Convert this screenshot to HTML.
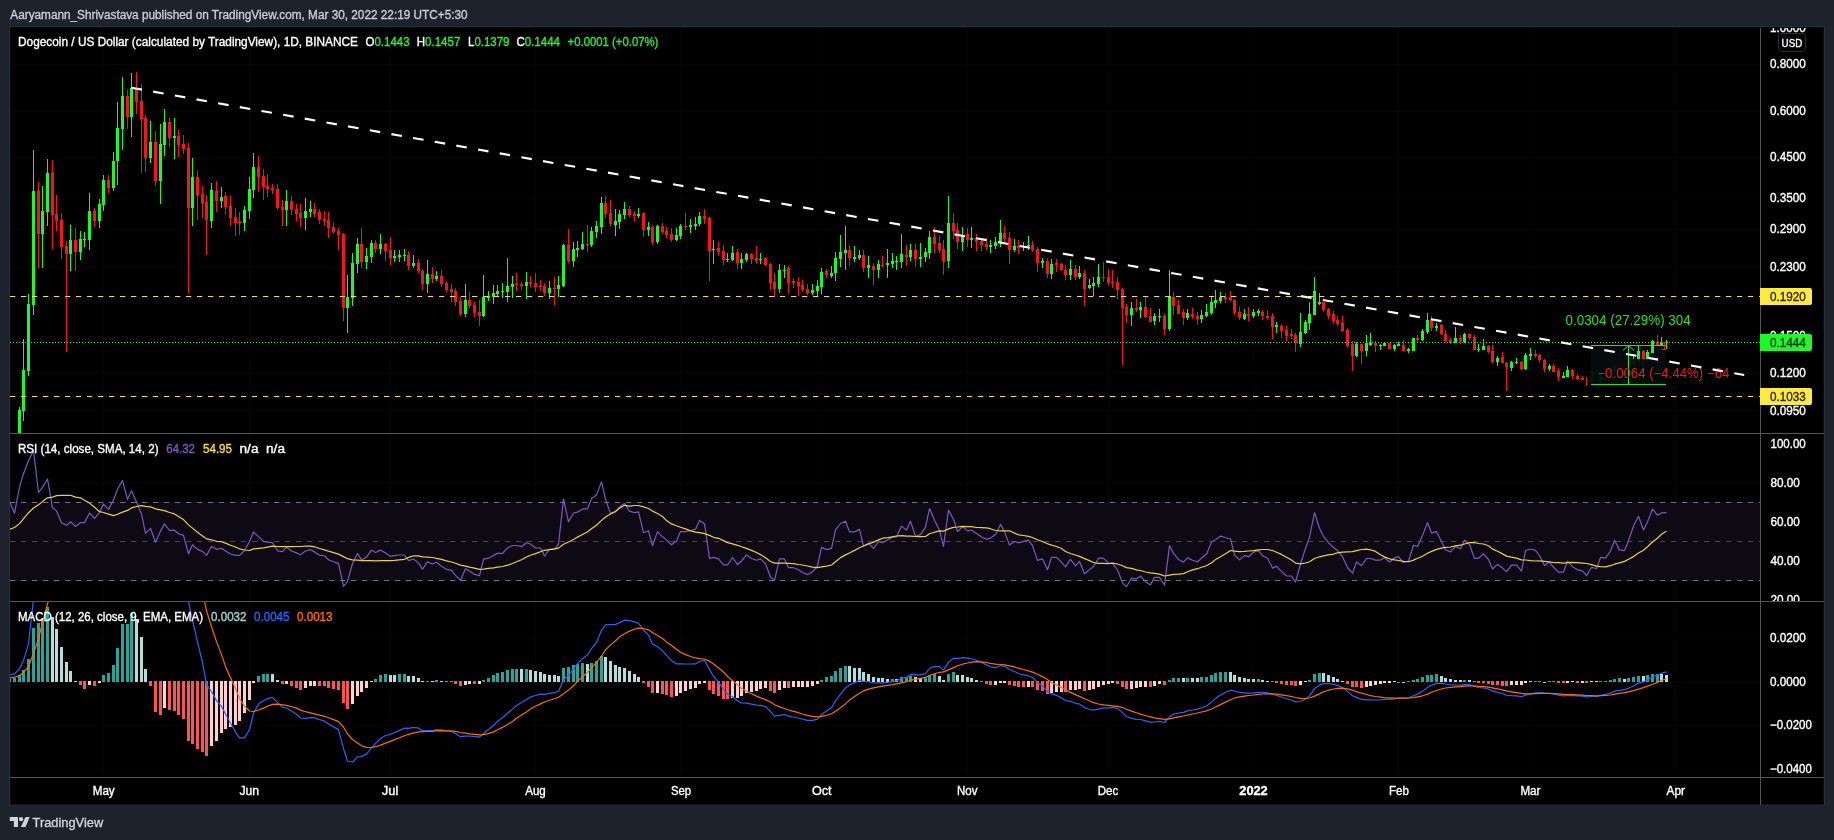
<!DOCTYPE html>
<html lang="en"><head><meta charset="utf-8"><title>DOGEUSD chart</title>
<style>html,body{margin:0;padding:0;background:#1e222d;overflow:hidden}svg text{white-space:pre}</style>
</head><body>
<svg width="1834" height="840" viewBox="0 0 1834 840" font-family="'Liberation Sans', sans-serif" style="display:block;will-change:transform">
<rect width="1834" height="840" fill="#1e222d"/>
<rect x="9" y="26" width="1816" height="779.7" fill="#2a2e39"/>
<rect x="10" y="27" width="1813.7" height="777.6" fill="#0e1014"/>
<rect x="10.6" y="27.7" width="1812.9" height="776.7" fill="#000"/>
<defs>
<clipPath id="cMain"><rect x="10" y="28" width="1750" height="405"/></clipPath>
<clipPath id="cRsi"><rect x="10" y="434" width="1750" height="167"/></clipPath>
<clipPath id="cMacd"><rect x="10" y="602" width="1750" height="175"/></clipPath>
<clipPath id="cAx1"><rect x="1760" y="28" width="64" height="405"/></clipPath>
<clipPath id="cAx2"><rect x="1761" y="434" width="63" height="167"/></clipPath>
</defs>
<path d="M103.5 28V777 M249.5 28V777 M390.5 28V777 M535.5 28V777 M680.5 28V777 M821.5 28V777 M967.5 28V777 M1108.5 28V777 M1253.5 28V777 M1398.5 28V777 M1530.5 28V777 M1675.5 28V777 M10 64.5H1760 M10 111.5H1760 M10 157.5H1760 M10 198.5H1760 M10 229.5H1760 M10 267.5H1760 M10 298.5H1760 M10 336.5H1760 M10 372.5H1760 M10 410.5H1760 M10 483.5H1760 M10 522.5H1760 M10 561.5H1760 M10 638.5H1760 M10 682.5H1760 M10 725.5H1760 M10 769.5H1760" stroke="#050608" stroke-width="1" fill="none" shape-rendering="crispEdges"/>
<g clip-path="url(#cMain)">
<path d="M19 407h1v33h-1zM23 339h1v82h-1zM28 294h1v82h-1zM33 150h1v165h-1zM42 186h1v82h-1zM47 159h1v67h-1zM70 225h1v46h-1zM80 231h1v29h-1zM84 232h1v15h-1zM89 193h1v57h-1zM99 199h1v29h-1zM103 175h1v36h-1zM113 152h1v39h-1zM117 102h1v83h-1zM122 77h1v73h-1zM131 73h1v64h-1zM150 121h1v42h-1zM160 124h1v80h-1zM164 109h1v47h-1zM174 118h1v41h-1zM192 158h1v68h-1zM211 183h1v45h-1zM221 187h1v21h-1zM244 206h1v25h-1zM249 177h1v42h-1zM253 153h1v45h-1zM286 190h1v36h-1zM305 198h1v32h-1zM310 201h1v16h-1zM347 275h1v58h-1zM352 253h1v53h-1zM357 238h1v35h-1zM366 248h1v21h-1zM371 240h1v23h-1zM380 234h1v20h-1zM394 250h1v12h-1zM399 250h1v12h-1zM404 249h1v12h-1zM413 255h1v13h-1zM427 260h1v33h-1zM436 271h1v10h-1zM465 284h1v33h-1zM483 275h1v42h-1zM488 291h1v10h-1zM493 285h1v19h-1zM497 285h1v11h-1zM502 283h1v15h-1zM507 258h1v44h-1zM512 276h1v22h-1zM526 272h1v27h-1zM549 281h1v18h-1zM558 276h1v21h-1zM563 244h1v43h-1zM573 242h1v25h-1zM577 241h1v16h-1zM582 232h1v18h-1zM591 227h1v20h-1zM596 221h1v17h-1zM601 197h1v37h-1zM615 209h1v27h-1zM619 210h1v19h-1zM624 202h1v17h-1zM638 208h1v10h-1zM648 222h1v14h-1zM657 225h1v19h-1zM676 228h1v13h-1zM680 224h1v15h-1zM690 219h1v14h-1zM695 217h1v13h-1zM699 212h1v14h-1zM713 240h1v24h-1zM727 253h1v9h-1zM732 246h1v15h-1zM741 253h1v16h-1zM746 253h1v9h-1zM760 253h1v11h-1zM779 264h1v29h-1zM784 265h1v13h-1zM812 284h1v11h-1zM817 280h1v16h-1zM821 268h1v26h-1zM831 266h1v12h-1zM835 252h1v29h-1zM840 235h1v32h-1zM845 226h1v44h-1zM854 246h1v16h-1zM859 250h1v10h-1zM868 256h1v22h-1zM878 260h1v18h-1zM887 249h1v29h-1zM892 253h1v15h-1zM896 256h1v14h-1zM901 234h1v34h-1zM910 244h1v17h-1zM920 243h1v24h-1zM925 248h1v14h-1zM929 231h1v28h-1zM948 196h1v72h-1zM962 227h1v24h-1zM971 227h1v21h-1zM990 240h1v13h-1zM995 237h1v12h-1zM1000 220h1v27h-1zM1014 239h1v13h-1zM1023 242h1v9h-1zM1028 236h1v14h-1zM1042 258h1v10h-1zM1051 259h1v20h-1zM1070 260h1v20h-1zM1079 266h1v13h-1zM1089 279h1v10h-1zM1093 277h1v19h-1zM1098 264h1v23h-1zM1131 302h1v24h-1zM1140 302h1v16h-1zM1154 313h1v12h-1zM1159 309h1v13h-1zM1169 270h1v61h-1zM1187 309h1v11h-1zM1201 310h1v13h-1zM1206 304h1v13h-1zM1211 297h1v18h-1zM1215 290h1v18h-1zM1220 292h1v11h-1zM1244 309h1v11h-1zM1253 309h1v9h-1zM1258 309h1v7h-1zM1276 322h1v11h-1zM1300 313h1v34h-1zM1305 320h1v14h-1zM1309 302h1v28h-1zM1314 277h1v38h-1zM1319 293h1v12h-1zM1356 342h1v15h-1zM1366 335h1v21h-1zM1370 333h1v13h-1zM1380 344h1v6h-1zM1384 342h1v4h-1zM1394 344h1v7h-1zM1398 342h1v4h-1zM1408 348h1v5h-1zM1413 338h1v13h-1zM1422 329h1v12h-1zM1427 313h1v21h-1zM1436 323h1v8h-1zM1455 327h1v16h-1zM1464 333h1v10h-1zM1478 344h1v8h-1zM1483 339h1v11h-1zM1497 356h1v10h-1zM1511 361h1v10h-1zM1516 358h1v6h-1zM1525 353h1v17h-1zM1530 348h1v12h-1zM1549 364h1v7h-1zM1563 372h1v6h-1zM1567 366h1v11h-1zM18 410h3v30h-3zM22 370h3v41h-3zM27 304h3v67h-3zM32 191h3v114h-3zM41 211h3v23h-3zM46 173h3v39h-3zM69 240h3v14h-3zM79 239h3v13h-3zM83 239h3v1h-3zM88 211h3v29h-3zM98 204h3v17h-3zM102 180h3v25h-3zM112 161h3v27h-3zM116 128h3v33h-3zM121 96h3v33h-3zM130 88h3v29h-3zM149 142h3v16h-3zM159 144h3v37h-3zM163 122h3v23h-3zM173 136h3v2h-3zM191 177h3v31h-3zM210 190h3v31h-3zM220 197h3v4h-3zM243 210h3v13h-3zM248 189h3v22h-3zM252 167h3v23h-3zM285 201h3v9h-3zM304 211h3v7h-3zM309 209h3v3h-3zM346 297h3v11h-3zM351 263h3v35h-3zM356 244h3v20h-3zM365 256h3v6h-3zM370 243h3v14h-3zM379 244h3v5h-3zM393 256h3v2h-3zM398 255h3v2h-3zM403 255h3v1h-3zM412 263h3v3h-3zM426 274h3v10h-3zM435 276h3v3h-3zM464 300h3v14h-3zM482 297h3v19h-3zM487 296h3v2h-3zM492 293h3v4h-3zM496 291h3v3h-3zM501 291h3v1h-3zM506 286h3v6h-3zM511 284h3v3h-3zM525 282h3v4h-3zM548 288h3v5h-3zM557 285h3v4h-3zM562 245h3v41h-3zM572 249h3v12h-3zM576 248h3v2h-3zM581 244h3v5h-3zM590 231h3v14h-3zM595 226h3v6h-3zM600 203h3v24h-3zM614 221h3v4h-3zM618 214h3v8h-3zM623 209h3v6h-3zM637 214h3v2h-3zM647 227h3v3h-3zM656 226h3v16h-3zM675 235h3v5h-3zM679 226h3v10h-3zM689 225h3v2h-3zM694 224h3v2h-3zM698 216h3v8h-3zM712 249h3v1h-3zM726 259h3v1h-3zM731 253h3v7h-3zM740 259h3v4h-3zM745 254h3v6h-3zM759 259h3v1h-3zM778 270h3v19h-3zM783 270h3v1h-3zM811 290h3v3h-3zM816 286h3v5h-3zM820 272h3v15h-3zM830 273h3v3h-3zM834 258h3v15h-3zM839 252h3v7h-3zM844 250h3v3h-3zM853 257h3v2h-3zM858 255h3v3h-3zM867 265h3v3h-3zM877 264h3v6h-3zM886 263h3v2h-3zM891 261h3v3h-3zM895 261h3v1h-3zM900 254h3v8h-3zM909 250h3v7h-3zM919 257h3v2h-3zM924 252h3v5h-3zM928 237h3v16h-3zM947 223h3v38h-3zM961 235h3v7h-3zM970 238h3v2h-3zM989 245h3v2h-3zM994 242h3v4h-3zM999 233h3v9h-3zM1013 246h3v4h-3zM1022 246h3v1h-3zM1027 245h3v1h-3zM1041 261h3v2h-3zM1050 264h3v10h-3zM1069 269h3v6h-3zM1078 273h3v4h-3zM1088 285h3v3h-3zM1092 283h3v3h-3zM1097 277h3v7h-3zM1130 308h3v7h-3zM1139 307h3v3h-3zM1153 316h3v5h-3zM1158 316h3v1h-3zM1168 296h3v33h-3zM1186 313h3v5h-3zM1200 315h3v4h-3zM1205 312h3v4h-3zM1210 302h3v11h-3zM1214 300h3v3h-3zM1219 297h3v4h-3zM1243 314h3v5h-3zM1252 312h3v4h-3zM1257 311h3v2h-3zM1275 325h3v2h-3zM1299 332h3v12h-3zM1304 322h3v11h-3zM1308 314h3v9h-3zM1313 291h3v24h-3zM1318 302h3v2h-3zM1355 344h3v12h-3zM1365 343h3v8h-3zM1369 343h3v2h-3zM1379 345h3v1h-3zM1383 343h3v3h-3zM1393 345h3v4h-3zM1397 344h3v2h-3zM1407 349h3v2h-3zM1412 338h3v13h-3zM1421 331h3v9h-3zM1426 320h3v12h-3zM1435 326h3v2h-3zM1454 338h3v5h-3zM1463 334h3v8h-3zM1477 349h3v1h-3zM1482 346h3v4h-3zM1496 358h3v4h-3zM1510 362h3v6h-3zM1515 362h3v1h-3zM1524 355h3v14h-3zM1529 354h3v2h-3zM1548 366h3v3h-3zM1562 376h3v2h-3zM1566 370h3v7h-3z" fill="#1df927" shape-rendering="crispEdges"/>
<path d="M38 182h1v86h-1zM52 160h1v89h-1zM56 195h1v36h-1zM61 213h1v46h-1zM66 241h1v111h-1zM75 228h1v43h-1zM94 208h1v19h-1zM108 175h1v18h-1zM127 90h1v39h-1zM136 72h1v42h-1zM141 84h1v89h-1zM145 115h1v57h-1zM155 131h1v55h-1zM169 118h1v29h-1zM178 130h1v27h-1zM183 135h1v19h-1zM188 143h1v150h-1zM197 170h1v50h-1zM202 186h1v32h-1zM206 195h1v60h-1zM216 181h1v31h-1zM225 192h1v23h-1zM230 196h1v30h-1zM235 208h1v28h-1zM239 212h1v23h-1zM258 156h1v36h-1zM263 169h1v31h-1zM267 174h1v23h-1zM272 184h1v10h-1zM277 184h1v26h-1zM282 200h1v26h-1zM291 196h1v19h-1zM296 204h1v17h-1zM300 204h1v23h-1zM314 203h1v14h-1zM319 209h1v15h-1zM324 211h1v15h-1zM328 212h1v26h-1zM333 222h1v12h-1zM338 228h1v22h-1zM343 233h1v88h-1zM361 228h1v40h-1zM375 240h1v13h-1zM385 243h1v18h-1zM390 237h1v28h-1zM408 251h1v19h-1zM418 259h1v14h-1zM422 269h1v21h-1zM432 267h1v16h-1zM441 270h1v17h-1zM446 281h1v11h-1zM451 284h1v18h-1zM455 288h1v18h-1zM460 297h1v19h-1zM469 292h1v16h-1zM474 302h1v15h-1zM479 300h1v26h-1zM516 273h1v18h-1zM521 282h1v8h-1zM530 276h1v11h-1zM535 273h1v19h-1zM540 280h1v11h-1zM544 283h1v13h-1zM554 277h1v28h-1zM568 229h1v34h-1zM587 225h1v27h-1zM605 196h1v22h-1zM610 200h1v26h-1zM629 206h1v11h-1zM634 211h1v10h-1zM643 212h1v25h-1zM652 225h1v20h-1zM662 223h1v11h-1zM666 227h1v11h-1zM671 228h1v14h-1zM685 213h1v17h-1zM704 209h1v15h-1zM709 217h1v64h-1zM718 242h1v14h-1zM723 245h1v20h-1zM737 249h1v20h-1zM751 253h1v11h-1zM756 246h1v18h-1zM765 257h1v9h-1zM770 263h1v27h-1zM774 273h1v24h-1zM788 266h1v28h-1zM793 278h1v10h-1zM798 277h1v19h-1zM802 280h1v12h-1zM807 284h1v11h-1zM826 269h1v9h-1zM849 245h1v21h-1zM863 250h1v22h-1zM873 263h1v22h-1zM882 256h1v11h-1zM906 245h1v21h-1zM915 244h1v23h-1zM934 227h1v26h-1zM939 236h1v17h-1zM943 240h1v35h-1zM953 213h1v26h-1zM957 223h1v26h-1zM967 228h1v19h-1zM976 234h1v17h-1zM981 240h1v11h-1zM986 238h1v12h-1zM1004 226h1v16h-1zM1009 232h1v32h-1zM1018 240h1v14h-1zM1032 241h1v11h-1zM1037 247h1v25h-1zM1047 258h1v20h-1zM1056 259h1v13h-1zM1061 263h1v8h-1zM1065 265h1v15h-1zM1075 265h1v15h-1zM1084 270h1v36h-1zM1103 262h1v20h-1zM1108 269h1v16h-1zM1112 270h1v18h-1zM1117 277h1v22h-1zM1122 288h1v77h-1zM1126 304h1v19h-1zM1136 299h1v13h-1zM1145 297h1v21h-1zM1150 308h1v14h-1zM1164 314h1v21h-1zM1173 292h1v23h-1zM1178 300h1v14h-1zM1183 309h1v16h-1zM1192 308h1v11h-1zM1197 312h1v13h-1zM1225 293h1v10h-1zM1230 291h1v10h-1zM1234 299h1v16h-1zM1239 307h1v13h-1zM1248 307h1v14h-1zM1262 310h1v10h-1zM1267 310h1v10h-1zM1272 313h1v26h-1zM1281 324h1v14h-1zM1286 326h1v15h-1zM1291 329h1v10h-1zM1295 333h1v19h-1zM1323 302h1v10h-1zM1328 308h1v11h-1zM1333 311h1v13h-1zM1337 316h1v10h-1zM1342 316h1v16h-1zM1347 328h1v20h-1zM1352 341h1v30h-1zM1361 344h1v20h-1zM1375 341h1v11h-1zM1389 343h1v6h-1zM1403 340h1v11h-1zM1417 335h1v7h-1zM1431 316h1v15h-1zM1441 324h1v11h-1zM1445 330h1v12h-1zM1450 337h1v7h-1zM1460 335h1v9h-1zM1469 334h1v6h-1zM1474 335h1v15h-1zM1488 345h1v8h-1zM1492 345h1v18h-1zM1502 352h1v11h-1zM1506 362h1v29h-1zM1521 361h1v9h-1zM1535 350h1v8h-1zM1539 354h1v9h-1zM1544 359h1v13h-1zM1553 364h1v8h-1zM1558 368h1v13h-1zM1572 369h1v10h-1zM1577 374h1v6h-1zM1582 376h1v4h-1zM1586 377h1v9h-1zM37 191h3v43h-3zM51 173h3v42h-3zM55 214h3v7h-3zM60 220h3v27h-3zM65 246h3v8h-3zM74 240h3v12h-3zM93 211h3v10h-3zM107 180h3v8h-3zM126 96h3v21h-3zM135 88h3v14h-3zM140 101h3v18h-3zM144 118h3v40h-3zM154 142h3v39h-3zM168 122h3v16h-3zM177 136h3v9h-3zM182 144h3v5h-3zM187 148h3v60h-3zM196 177h3v18h-3zM201 194h3v9h-3zM205 202h3v18h-3zM215 191h3v10h-3zM224 196h3v11h-3zM229 206h3v12h-3zM234 217h3v6h-3zM238 221h3v2h-3zM257 167h3v10h-3zM262 176h3v11h-3zM266 186h3v3h-3zM271 188h3v2h-3zM276 189h3v19h-3zM281 207h3v3h-3zM290 201h3v9h-3zM295 209h3v5h-3zM299 213h3v5h-3zM313 209h3v5h-3zM318 212h3v8h-3zM323 219h3v2h-3zM327 220h3v8h-3zM332 227h3v5h-3zM337 231h3v4h-3zM342 234h3v74h-3zM360 244h3v18h-3zM374 243h3v6h-3zM384 244h3v7h-3zM389 250h3v8h-3zM407 255h3v11h-3zM417 263h3v8h-3zM421 271h3v13h-3zM431 274h3v5h-3zM440 276h3v8h-3zM445 283h3v7h-3zM450 289h3v3h-3zM454 291h3v11h-3zM459 301h3v13h-3zM468 300h3v6h-3zM473 305h3v8h-3zM478 312h3v4h-3zM515 284h3v1h-3zM520 284h3v2h-3zM529 282h3v2h-3zM534 283h3v4h-3zM539 286h3v1h-3zM543 286h3v7h-3zM553 288h3v1h-3zM567 245h3v16h-3zM586 244h3v1h-3zM604 203h3v11h-3zM609 213h3v11h-3zM628 209h3v6h-3zM633 214h3v2h-3zM642 213h3v17h-3zM651 227h3v15h-3zM661 226h3v6h-3zM665 231h3v4h-3zM670 234h3v6h-3zM684 226h3v1h-3zM703 216h3v3h-3zM708 218h3v33h-3zM717 248h3v4h-3zM722 251h3v9h-3zM736 252h3v11h-3zM750 254h3v5h-3zM755 258h3v3h-3zM764 258h3v7h-3zM769 264h3v19h-3zM773 282h3v7h-3zM787 268h3v15h-3zM792 281h3v2h-3zM797 282h3v4h-3zM801 285h3v5h-3zM806 289h3v4h-3zM825 271h3v4h-3zM848 250h3v8h-3zM862 255h3v13h-3zM872 266h3v4h-3zM881 265h3v1h-3zM905 255h3v2h-3zM914 250h3v9h-3zM933 237h3v7h-3zM938 243h3v7h-3zM942 249h3v13h-3zM952 223h3v8h-3zM956 230h3v12h-3zM966 234h3v6h-3zM975 238h3v4h-3zM980 241h3v4h-3zM985 244h3v3h-3zM1003 233h3v6h-3zM1008 238h3v12h-3zM1017 246h3v2h-3zM1031 245h3v5h-3zM1036 249h3v14h-3zM1046 261h3v13h-3zM1055 263h3v2h-3zM1060 264h3v6h-3zM1064 270h3v5h-3zM1074 269h3v8h-3zM1083 273h3v16h-3zM1102 277h3v1h-3zM1107 277h3v6h-3zM1111 282h3v1h-3zM1116 282h3v8h-3zM1121 289h3v19h-3zM1125 307h3v8h-3zM1135 308h3v2h-3zM1144 307h3v10h-3zM1149 316h3v6h-3zM1163 316h3v13h-3zM1172 297h3v9h-3zM1177 305h3v9h-3zM1182 312h3v6h-3zM1191 314h3v3h-3zM1196 316h3v3h-3zM1224 297h3v2h-3zM1229 297h3v3h-3zM1233 300h3v13h-3zM1238 312h3v6h-3zM1247 314h3v2h-3zM1261 312h3v4h-3zM1266 316h3v2h-3zM1271 316h3v11h-3zM1280 326h3v5h-3zM1285 330h3v6h-3zM1290 334h3v2h-3zM1294 335h3v8h-3zM1322 302h3v8h-3zM1327 309h3v7h-3zM1332 314h3v7h-3zM1336 320h3v4h-3zM1341 323h3v8h-3zM1346 330h3v16h-3zM1351 344h3v12h-3zM1360 344h3v7h-3zM1374 343h3v3h-3zM1388 343h3v6h-3zM1402 345h3v6h-3zM1416 338h3v2h-3zM1430 319h3v9h-3zM1440 325h3v9h-3zM1444 334h3v7h-3zM1449 340h3v3h-3zM1459 338h3v3h-3zM1468 334h3v4h-3zM1473 337h3v13h-3zM1487 346h3v6h-3zM1491 351h3v11h-3zM1501 357h3v6h-3zM1505 363h3v4h-3zM1520 362h3v7h-3zM1534 354h3v2h-3zM1538 355h3v5h-3zM1543 360h3v9h-3zM1552 366h3v6h-3zM1557 371h3v6h-3zM1571 370h3v6h-3zM1576 376h3v3h-3zM1581 378h3v2h-3z" fill="#f71518" shape-rendering="crispEdges"/>
<rect x="1591" y="345" width="75" height="40" fill="#030b0d"/>
<path d="M1590 371h3v13h-3z M1591 369h1v16h-1zM1599 375h3v8h-3z M1600 374h1v10h-1zM1609 368h3v6h-3z M1610 366h1v9h-1zM1613 365h3v9h-3z M1614 364h1v11h-1zM1627 357h3v9h-3z M1628 355h1v12h-1zM1632 359h3v7h-3z" fill="#1df927" opacity="0.05" shape-rendering="crispEdges"/>
<path d="M1595 380h3v3h-3z M1596 379h1v5h-1zM1604 372h3v4h-3z M1605 371h1v7h-1zM1618 366h3v3h-3z M1619 364h1v7h-1zM1623 364h3v4h-3z M1624 362h1v7h-1z" fill="#f71518" opacity="0.05" shape-rendering="crispEdges"/>
<path d="M1633 356h1v3h-1zM1638 346h1v13h-1zM1647 350h1v9h-1zM1652 340h1v13h-1zM1661 337h1v8h-1zM1666 340h1v9h-1zM1637 351h3v8h-3zM1646 352h3v7h-3zM1651 341h3v12h-3zM1660 342h3v3h-3zM1665 342h3v1h-3z" fill="#1df927" shape-rendering="crispEdges"/>
<path d="M1643 350h1v9h-1zM1657 335h1v10h-1zM1642 351h3v8h-3zM1656 342h3v3h-3z" fill="#f71518" shape-rendering="crispEdges"/>
<path d="M10 296.5H1760 M10 396.5H1760" stroke="#f7e436" stroke-width="1" stroke-dasharray="5.3 5.7" fill="none"/>
<path d="M10 342.5H1760" stroke="#1df927" stroke-width="1" stroke-dasharray="1 2" fill="none" shape-rendering="crispEdges"/>
<path d="M1591 345.5H1666 M1591 384.5H1666 M1628.5 345V385 M1623 350.5L1628.5 345.5L1634 350.5" stroke="#22e52b" stroke-width="1" fill="none"/>
<path d="M1661.5 342.5H1666 M1661.5 349.5H1666 M1664.5 342.5V349.5" stroke="#ea1c1c" stroke-width="1" fill="none"/>
<text x="1565.5" y="324.8" font-size="14" fill="#1fe62a" textLength="125.2" lengthAdjust="spacingAndGlyphs">0.0304 (27.29%) 304</text>
<text x="1597.4" y="377.9" font-size="14" fill="#f01616" textLength="132" lengthAdjust="spacingAndGlyphs">−0.0064 (−4.44%) −64</text>
<path d="M131.5 87.8L1744.2 375.0" stroke="#fff" stroke-width="2.15" stroke-dasharray="10.6 11.4" fill="none"/>
</g>
<g clip-path="url(#cRsi)">
<rect x="10" y="502.2" width="1750" height="78.0" fill="#0d0a14"/>
<path d="M10 502.5H1760" stroke="#787b86" stroke-width="1" stroke-dasharray="5.3 5.7" fill="none" opacity="0.95"/>
<path d="M10 541.5H1760" stroke="#787b86" stroke-width="1" stroke-dasharray="5.3 5.7" fill="none" opacity="0.55"/>
<path d="M10 580.5H1760" stroke="#787b86" stroke-width="1" stroke-dasharray="5.3 5.7" fill="none" opacity="0.95"/>
<path d="M0.5 526.5L5.5 521.6L9.5 501.3L14.5 513.2L19.5 487.0L23.5 473.7L28.5 460.7L33.5 450.8L38.5 492.5L42.5 487.4L47.5 479.0L52.5 507.8L56.5 510.9L61.5 522.7L66.5 525.4L70.5 521.7L75.5 526.4L80.5 522.6L84.5 522.6L89.5 513.0L94.5 518.4L99.5 512.6L103.5 504.1L108.5 509.4L113.5 500.0L117.5 489.3L122.5 480.4L127.5 499.4L131.5 490.7L136.5 501.9L141.5 514.0L145.5 533.4L150.5 528.3L155.5 542.2L160.5 531.1L164.5 523.9L169.5 530.5L174.5 530.2L178.5 533.7L183.5 535.4L188.5 553.8L192.5 544.8L197.5 549.4L202.5 551.4L206.5 555.4L211.5 546.5L216.5 549.3L221.5 548.3L225.5 550.9L230.5 554.0L235.5 555.4L239.5 555.4L244.5 550.5L249.5 541.5L253.5 532.0L258.5 536.6L263.5 541.3L267.5 542.2L272.5 542.7L277.5 550.8L282.5 551.6L286.5 547.3L291.5 551.0L296.5 552.9L300.5 554.7L305.5 551.0L310.5 549.7L314.5 551.9L319.5 555.2L324.5 555.8L328.5 559.7L333.5 561.8L338.5 563.4L343.5 586.4L347.5 581.3L352.5 563.5L357.5 553.4L361.5 559.9L366.5 557.2L371.5 550.2L375.5 552.5L380.5 550.1L385.5 553.1L390.5 556.4L394.5 555.7L399.5 555.0L404.5 555.0L408.5 560.6L413.5 559.0L418.5 562.9L422.5 569.2L427.5 561.9L432.5 564.0L436.5 562.3L441.5 566.2L446.5 569.3L451.5 570.4L455.5 575.3L460.5 580.3L465.5 568.7L469.5 571.1L474.5 574.4L479.5 575.7L483.5 559.2L488.5 558.2L493.5 555.4L497.5 553.4L502.5 553.4L507.5 547.8L512.5 545.5L516.5 545.5L521.5 546.7L526.5 542.7L530.5 544.0L535.5 548.0L540.5 548.0L544.5 556.0L549.5 549.4L554.5 549.4L558.5 544.1L563.5 499.0L568.5 521.8L573.5 513.0L577.5 512.2L582.5 508.9L587.5 508.9L591.5 498.6L596.5 495.1L601.5 481.7L605.5 499.3L610.5 513.6L615.5 512.1L619.5 506.9L624.5 503.4L629.5 511.1L634.5 512.7L638.5 511.8L643.5 532.7L648.5 530.7L652.5 545.8L657.5 531.6L662.5 536.8L666.5 539.9L671.5 544.8L676.5 540.7L680.5 531.6L685.5 531.6L690.5 530.5L695.5 529.4L699.5 520.4L704.5 523.7L709.5 558.4L713.5 557.4L718.5 558.9L723.5 564.9L727.5 564.9L732.5 557.5L737.5 564.7L741.5 561.0L746.5 554.9L751.5 558.5L756.5 560.3L760.5 558.9L765.5 563.7L770.5 577.0L774.5 580.4L779.5 558.9L784.5 558.9L788.5 567.7L793.5 567.7L798.5 569.8L802.5 572.5L807.5 574.6L812.5 571.8L817.5 566.0L821.5 547.4L826.5 549.6L831.5 548.3L835.5 529.9L840.5 523.5L845.5 521.3L849.5 531.9L854.5 531.9L859.5 529.4L863.5 546.0L868.5 543.4L873.5 548.4L878.5 541.5L882.5 542.8L887.5 539.9L892.5 536.9L896.5 536.9L901.5 526.1L906.5 530.0L910.5 521.2L915.5 536.2L920.5 534.6L925.5 527.1L929.5 508.6L934.5 520.2L939.5 530.3L943.5 546.3L948.5 510.0L953.5 519.2L957.5 531.5L962.5 526.6L967.5 530.9L971.5 530.0L976.5 533.5L981.5 537.0L986.5 539.2L990.5 538.1L995.5 534.5L1000.5 524.4L1004.5 531.6L1009.5 545.1L1014.5 541.5L1018.5 542.8L1023.5 541.4L1028.5 540.1L1032.5 545.7L1037.5 560.4L1042.5 558.9L1047.5 569.7L1051.5 557.4L1056.5 557.4L1061.5 562.3L1065.5 566.8L1070.5 559.4L1075.5 565.9L1079.5 561.5L1084.5 573.7L1089.5 569.6L1093.5 566.7L1098.5 558.2L1103.5 558.2L1108.5 563.3L1112.5 563.3L1117.5 570.0L1122.5 582.9L1126.5 586.7L1131.5 578.3L1136.5 578.9L1140.5 575.9L1145.5 581.9L1150.5 584.9L1154.5 577.4L1159.5 577.4L1164.5 585.1L1169.5 545.7L1173.5 553.4L1178.5 559.4L1183.5 562.2L1187.5 557.9L1192.5 560.2L1197.5 561.8L1201.5 558.1L1206.5 554.3L1211.5 542.1L1215.5 539.8L1220.5 536.1L1225.5 537.5L1230.5 539.0L1234.5 554.9L1239.5 559.9L1244.5 555.6L1248.5 556.7L1253.5 552.1L1258.5 550.6L1262.5 555.7L1267.5 558.2L1272.5 568.1L1276.5 566.4L1281.5 571.4L1286.5 576.0L1291.5 576.0L1295.5 582.1L1300.5 564.0L1305.5 548.4L1309.5 537.3L1314.5 512.5L1319.5 528.2L1323.5 536.4L1328.5 542.7L1333.5 547.6L1337.5 550.4L1342.5 556.7L1347.5 567.5L1352.5 573.2L1356.5 561.9L1361.5 565.7L1366.5 558.5L1370.5 558.5L1375.5 560.1L1380.5 560.1L1384.5 557.5L1389.5 562.0L1394.5 558.0L1398.5 556.6L1403.5 562.5L1408.5 561.0L1413.5 545.2L1417.5 546.4L1422.5 535.6L1427.5 522.5L1431.5 532.9L1436.5 531.7L1441.5 541.4L1445.5 549.7L1450.5 551.9L1455.5 546.4L1460.5 548.8L1464.5 540.3L1469.5 544.5L1474.5 558.4L1478.5 558.4L1483.5 553.8L1488.5 559.5L1492.5 569.0L1497.5 564.4L1502.5 568.1L1506.5 571.7L1511.5 565.1L1516.5 565.1L1521.5 571.1L1525.5 550.5L1530.5 549.0L1535.5 550.3L1539.5 555.5L1544.5 565.5L1549.5 562.1L1553.5 567.3L1558.5 572.1L1563.5 572.1L1567.5 561.2L1572.5 566.7L1577.5 569.8L1582.5 570.8L1586.5 575.7L1591.5 567.3L1596.5 568.5L1600.5 557.4L1605.5 558.2L1610.5 551.0L1614.5 540.4L1619.5 549.8L1624.5 550.6L1628.5 541.0L1633.5 526.0L1638.5 516.3L1643.5 530.0L1647.5 521.9L1652.5 509.2L1657.5 515.2L1661.5 512.9L1666.5 512.6" stroke="#7e57c2" stroke-width="1.2" fill="none" stroke-linejoin="round"/>
<path d="M0.5 534.5L5.5 532.4L9.5 529.4L14.5 527.5L19.5 523.6L23.5 518.6L28.5 512.7L33.5 508.0L38.5 504.8L42.5 501.6L47.5 497.8L52.5 497.2L56.5 495.6L61.5 495.4L66.5 495.3L70.5 495.3L75.5 497.1L80.5 497.8L84.5 500.3L89.5 503.1L94.5 507.2L99.5 511.7L103.5 512.5L108.5 514.1L113.5 515.6L117.5 514.2L122.5 512.1L127.5 510.4L131.5 507.9L136.5 506.5L141.5 505.6L145.5 506.4L150.5 506.8L155.5 508.9L160.5 509.8L164.5 510.6L169.5 512.5L174.5 513.9L178.5 516.4L183.5 519.6L188.5 524.9L192.5 528.1L197.5 532.3L202.5 535.9L206.5 538.8L211.5 539.8L216.5 541.3L221.5 541.7L225.5 543.1L230.5 545.3L235.5 547.0L239.5 548.8L244.5 550.0L249.5 550.5L253.5 548.9L258.5 548.3L263.5 547.8L267.5 547.1L272.5 546.2L277.5 546.5L282.5 546.7L286.5 546.6L291.5 546.6L296.5 546.5L300.5 546.5L305.5 546.1L310.5 546.1L314.5 546.8L319.5 548.5L324.5 549.9L328.5 551.2L333.5 552.6L338.5 554.1L343.5 556.6L347.5 558.7L352.5 559.9L357.5 560.1L361.5 560.6L366.5 560.7L371.5 560.7L375.5 560.9L380.5 560.7L385.5 560.6L390.5 560.6L394.5 560.4L399.5 559.9L404.5 559.3L408.5 557.4L413.5 555.8L418.5 555.8L422.5 556.9L427.5 557.1L432.5 557.5L436.5 558.4L441.5 559.4L446.5 560.8L451.5 562.0L455.5 563.3L460.5 565.1L465.5 566.1L469.5 567.2L474.5 568.2L479.5 569.4L483.5 569.1L488.5 568.4L493.5 567.9L497.5 567.1L502.5 566.5L507.5 565.2L512.5 563.5L516.5 561.7L521.5 559.7L526.5 557.0L530.5 555.2L535.5 553.6L540.5 551.7L544.5 550.3L549.5 549.6L554.5 548.9L558.5 548.1L563.5 544.2L568.5 542.0L573.5 539.5L577.5 537.1L582.5 534.5L587.5 531.8L591.5 528.7L596.5 525.2L601.5 520.4L605.5 517.0L610.5 513.9L615.5 511.3L619.5 508.2L624.5 505.3L629.5 506.2L634.5 505.5L638.5 505.5L643.5 506.9L648.5 508.5L652.5 511.1L657.5 513.5L662.5 516.5L666.5 520.6L671.5 523.9L676.5 525.8L680.5 527.2L685.5 528.9L690.5 530.9L695.5 532.2L699.5 532.7L704.5 533.6L709.5 535.4L713.5 537.3L718.5 538.3L723.5 540.6L727.5 542.6L732.5 543.9L737.5 545.3L741.5 546.8L746.5 548.4L751.5 550.4L756.5 552.5L760.5 554.6L765.5 557.7L770.5 561.5L774.5 563.1L779.5 563.2L784.5 563.2L788.5 563.4L793.5 563.6L798.5 564.5L802.5 565.0L807.5 566.0L812.5 567.2L817.5 567.7L821.5 566.8L826.5 566.1L831.5 565.0L835.5 561.7L840.5 557.6L845.5 554.9L849.5 553.0L854.5 550.4L859.5 547.7L863.5 546.0L868.5 543.9L873.5 542.1L878.5 539.9L882.5 538.2L887.5 537.7L892.5 536.8L896.5 536.0L901.5 535.7L906.5 536.2L910.5 536.2L915.5 536.5L920.5 536.7L925.5 536.5L929.5 533.8L934.5 532.2L939.5 530.9L943.5 531.2L948.5 528.9L953.5 527.4L957.5 527.0L962.5 526.3L967.5 526.6L971.5 526.6L976.5 527.5L981.5 527.6L986.5 527.9L990.5 528.7L995.5 530.5L1000.5 530.8L1004.5 530.9L1009.5 530.8L1014.5 533.1L1018.5 534.8L1023.5 535.5L1028.5 536.4L1032.5 537.5L1037.5 539.7L1042.5 541.5L1047.5 543.8L1051.5 545.1L1056.5 546.5L1061.5 548.5L1065.5 551.5L1070.5 553.5L1075.5 555.0L1079.5 556.4L1084.5 558.6L1089.5 560.6L1093.5 562.5L1098.5 563.4L1103.5 563.3L1108.5 563.6L1112.5 563.1L1117.5 564.0L1122.5 565.8L1126.5 567.6L1131.5 568.4L1136.5 569.8L1140.5 570.5L1145.5 572.0L1150.5 572.8L1154.5 573.3L1159.5 574.1L1164.5 576.0L1169.5 575.1L1173.5 574.4L1178.5 574.1L1183.5 573.6L1187.5 571.8L1192.5 569.9L1197.5 568.7L1201.5 567.2L1206.5 565.7L1211.5 562.8L1215.5 559.6L1220.5 556.7L1225.5 553.8L1230.5 550.5L1234.5 551.2L1239.5 551.7L1244.5 551.4L1248.5 551.0L1253.5 550.6L1258.5 549.9L1262.5 549.5L1267.5 549.5L1272.5 550.5L1276.5 552.2L1281.5 554.4L1286.5 557.3L1291.5 560.0L1295.5 563.1L1300.5 563.8L1305.5 563.0L1309.5 561.7L1314.5 558.5L1319.5 556.8L1323.5 555.8L1328.5 554.8L1333.5 554.1L1337.5 552.8L1342.5 552.1L1347.5 551.9L1352.5 551.7L1356.5 550.6L1361.5 549.5L1366.5 549.1L1370.5 549.8L1375.5 551.4L1380.5 554.8L1384.5 556.9L1389.5 558.8L1394.5 559.9L1398.5 560.5L1403.5 561.4L1408.5 561.7L1413.5 560.1L1417.5 558.2L1422.5 556.3L1427.5 553.2L1431.5 551.4L1436.5 549.4L1441.5 548.1L1445.5 547.4L1450.5 547.0L1455.5 545.8L1460.5 545.2L1464.5 544.0L1469.5 542.7L1474.5 542.5L1478.5 543.5L1483.5 544.0L1488.5 545.7L1492.5 549.1L1497.5 551.3L1502.5 553.9L1506.5 556.1L1511.5 557.2L1516.5 558.1L1521.5 559.9L1525.5 560.0L1530.5 560.6L1535.5 561.0L1539.5 560.8L1544.5 561.3L1549.5 561.9L1553.5 562.5L1558.5 562.7L1563.5 563.2L1567.5 562.7L1572.5 562.4L1577.5 562.7L1582.5 563.1L1586.5 563.5L1591.5 564.7L1596.5 566.1L1600.5 566.6L1605.5 566.8L1610.5 565.7L1614.5 564.2L1619.5 562.9L1624.5 561.4L1628.5 559.2L1633.5 556.6L1638.5 553.0L1643.5 550.2L1647.5 546.7L1652.5 542.0L1657.5 538.2L1661.5 534.3L1666.5 531.1" stroke="#e8d33a" stroke-width="1.2" fill="none" stroke-linejoin="round"/>
</g>
<g clip-path="url(#cMacd)">
<path d="M4 680h3v2h-3zM8 679h3v3h-3zM13 678h3v4h-3zM18 675h3v7h-3zM22 670h3v12h-3zM27 659h3v23h-3zM32 628h3v54h-3zM37 623h3v59h-3zM41 618h3v64h-3zM46 607h3v75h-3zM102 675h3v7h-3zM107 673h3v9h-3zM112 665h3v17h-3zM116 648h3v34h-3zM121 624h3v58h-3zM126 624h3v58h-3zM130 613h3v69h-3zM257 676h3v6h-3zM262 674h3v8h-3zM266 674h3v8h-3zM374 679h3v3h-3zM379 675h3v7h-3zM384 674h3v8h-3zM398 674h3v8h-3zM403 674h3v8h-3zM426 681h3v1h-3zM435 680h3v2h-3zM482 680h3v2h-3zM487 678h3v4h-3zM492 675h3v7h-3zM496 673h3v9h-3zM501 672h3v10h-3zM506 670h3v12h-3zM511 669h3v13h-3zM515 669h3v13h-3zM525 669h3v13h-3zM562 668h3v14h-3zM567 667h3v15h-3zM572 665h3v17h-3zM576 664h3v18h-3zM581 663h3v19h-3zM590 663h3v19h-3zM595 661h3v21h-3zM600 656h3v26h-3zM820 680h3v2h-3zM825 677h3v5h-3zM830 676h3v6h-3zM834 671h3v11h-3zM839 668h3v14h-3zM844 666h3v16h-3zM891 679h3v3h-3zM900 677h3v5h-3zM905 677h3v5h-3zM909 676h3v6h-3zM924 678h3v4h-3zM928 675h3v7h-3zM933 674h3v8h-3zM947 674h3v8h-3zM952 672h3v10h-3zM1168 680h3v2h-3zM1172 678h3v4h-3zM1177 678h3v4h-3zM1186 678h3v4h-3zM1200 677h3v5h-3zM1205 677h3v5h-3zM1210 675h3v7h-3zM1214 673h3v9h-3zM1219 672h3v10h-3zM1224 672h3v10h-3zM1257 679h3v3h-3zM1308 680h3v2h-3zM1313 674h3v8h-3zM1318 673h3v9h-3zM1397 682h3v1h-3zM1407 681h3v1h-3zM1412 680h3v2h-3zM1416 679h3v3h-3zM1421 677h3v5h-3zM1426 675h3v7h-3zM1430 675h3v7h-3zM1435 674h3v8h-3zM1463 680h3v2h-3zM1534 681h3v1h-3zM1538 681h3v1h-3zM1599 681h3v1h-3zM1604 681h3v1h-3zM1609 680h3v2h-3zM1613 679h3v3h-3zM1618 678h3v4h-3zM1627 678h3v4h-3zM1632 677h3v5h-3zM1637 676h3v6h-3zM1646 675h3v7h-3zM1651 674h3v8h-3zM1656 674h3v8h-3z" fill="#26a69a" shape-rendering="crispEdges"/>
<path d="M51 617h3v65h-3zM55 629h3v53h-3zM60 647h3v35h-3zM65 662h3v20h-3zM69 671h3v11h-3zM74 681h3v1h-3zM135 619h3v63h-3zM140 637h3v45h-3zM144 669h3v13h-3zM271 674h3v8h-3zM276 680h3v2h-3zM389 675h3v7h-3zM393 675h3v7h-3zM407 676h3v6h-3zM412 676h3v6h-3zM417 678h3v4h-3zM421 681h3v1h-3zM431 681h3v1h-3zM440 681h3v1h-3zM520 669h3v13h-3zM529 670h3v12h-3zM534 671h3v11h-3zM539 672h3v10h-3zM543 674h3v8h-3zM548 675h3v7h-3zM553 675h3v7h-3zM557 676h3v6h-3zM586 664h3v18h-3zM604 657h3v25h-3zM609 661h3v21h-3zM614 665h3v17h-3zM618 667h3v15h-3zM623 668h3v14h-3zM628 671h3v11h-3zM633 674h3v8h-3zM637 677h3v5h-3zM848 666h3v16h-3zM853 668h3v14h-3zM858 668h3v14h-3zM862 672h3v10h-3zM867 674h3v8h-3zM872 677h3v5h-3zM877 678h3v4h-3zM881 678h3v4h-3zM886 679h3v3h-3zM895 679h3v3h-3zM914 677h3v5h-3zM919 678h3v4h-3zM938 676h3v6h-3zM942 680h3v2h-3zM956 675h3v7h-3zM961 675h3v7h-3zM966 677h3v5h-3zM970 678h3v4h-3zM975 680h3v2h-3zM1182 678h3v4h-3zM1191 678h3v4h-3zM1196 678h3v4h-3zM1229 672h3v10h-3zM1233 675h3v7h-3zM1238 677h3v5h-3zM1243 678h3v4h-3zM1247 679h3v3h-3zM1252 679h3v3h-3zM1261 680h3v2h-3zM1266 681h3v1h-3zM1322 673h3v9h-3zM1327 675h3v7h-3zM1332 677h3v5h-3zM1336 679h3v3h-3zM1341 681h3v1h-3zM1402 682h3v1h-3zM1440 676h3v6h-3zM1444 678h3v4h-3zM1449 679h3v3h-3zM1454 680h3v2h-3zM1459 680h3v2h-3zM1468 680h3v2h-3zM1543 682h3v1h-3zM1623 679h3v3h-3zM1642 676h3v6h-3zM1660 674h3v8h-3zM1665 675h3v7h-3z" fill="#b2dfdb" shape-rendering="crispEdges"/>
<path d="M79 681h3v4h-3zM83 681h3v8h-3zM93 681h3v5h-3zM149 681h3v5h-3zM154 681h3v31h-3zM159 681h3v34h-3zM168 681h3v29h-3zM173 681h3v30h-3zM177 681h3v34h-3zM182 681h3v38h-3zM187 681h3v60h-3zM191 681h3v63h-3zM196 681h3v68h-3zM201 681h3v71h-3zM205 681h3v75h-3zM281 681h3v3h-3zM290 681h3v5h-3zM295 681h3v7h-3zM299 681h3v9h-3zM318 681h3v5h-3zM323 681h3v5h-3zM327 681h3v7h-3zM332 681h3v8h-3zM337 681h3v9h-3zM342 681h3v22h-3zM346 681h3v28h-3zM445 681h3v1h-3zM450 681h3v1h-3zM454 681h3v3h-3zM459 681h3v5h-3zM473 681h3v3h-3zM642 681h3v2h-3zM647 681h3v6h-3zM651 681h3v12h-3zM661 681h3v13h-3zM665 681h3v14h-3zM670 681h3v16h-3zM708 681h3v9h-3zM712 681h3v13h-3zM717 681h3v15h-3zM722 681h3v18h-3zM726 681h3v18h-3zM769 681h3v10h-3zM773 681h3v12h-3zM787 681h3v7h-3zM980 681h3v1h-3zM985 681h3v3h-3zM989 681h3v4h-3zM1008 681h3v4h-3zM1013 681h3v5h-3zM1017 681h3v6h-3zM1022 681h3v6h-3zM1031 681h3v6h-3zM1036 681h3v9h-3zM1041 681h3v10h-3zM1046 681h3v13h-3zM1064 681h3v11h-3zM1083 681h3v10h-3zM1116 681h3v3h-3zM1121 681h3v6h-3zM1125 681h3v8h-3zM1149 681h3v6h-3zM1163 681h3v4h-3zM1271 681h3v1h-3zM1275 681h3v2h-3zM1280 681h3v3h-3zM1285 681h3v4h-3zM1290 681h3v4h-3zM1294 681h3v5h-3zM1346 681h3v3h-3zM1351 681h3v6h-3zM1355 681h3v6h-3zM1360 681h3v7h-3zM1473 681h3v1h-3zM1477 681h3v2h-3zM1482 681h3v2h-3zM1487 681h3v3h-3zM1491 681h3v4h-3zM1496 681h3v4h-3zM1501 681h3v5h-3zM1505 681h3v5h-3zM1548 681h3v1h-3zM1552 681h3v1h-3zM1557 681h3v2h-3zM1562 681h3v2h-3zM1576 681h3v2h-3zM1585 681h3v2h-3z" fill="#ff5252" shape-rendering="crispEdges"/>
<path d="M88 681h3v4h-3zM98 681h3v2h-3zM163 681h3v27h-3zM210 681h3v65h-3zM215 681h3v60h-3zM220 681h3v52h-3zM224 681h3v48h-3zM229 681h3v46h-3zM234 681h3v44h-3zM238 681h3v40h-3zM243 681h3v32h-3zM248 681h3v19h-3zM252 681h3v2h-3zM285 681h3v3h-3zM304 681h3v7h-3zM309 681h3v5h-3zM313 681h3v5h-3zM351 681h3v23h-3zM356 681h3v15h-3zM360 681h3v11h-3zM365 681h3v7h-3zM370 681h3v1h-3zM464 681h3v4h-3zM468 681h3v3h-3zM478 681h3v3h-3zM656 681h3v12h-3zM675 681h3v15h-3zM679 681h3v12h-3zM684 681h3v10h-3zM689 681h3v8h-3zM694 681h3v7h-3zM698 681h3v3h-3zM703 681h3v2h-3zM731 681h3v17h-3zM736 681h3v17h-3zM740 681h3v15h-3zM745 681h3v12h-3zM750 681h3v11h-3zM755 681h3v10h-3zM759 681h3v8h-3zM764 681h3v7h-3zM778 681h3v9h-3zM783 681h3v7h-3zM792 681h3v6h-3zM797 681h3v6h-3zM801 681h3v6h-3zM806 681h3v6h-3zM811 681h3v5h-3zM816 681h3v3h-3zM994 681h3v4h-3zM999 681h3v2h-3zM1003 681h3v2h-3zM1027 681h3v6h-3zM1050 681h3v12h-3zM1055 681h3v11h-3zM1060 681h3v11h-3zM1069 681h3v9h-3zM1074 681h3v9h-3zM1078 681h3v8h-3zM1088 681h3v9h-3zM1092 681h3v8h-3zM1097 681h3v6h-3zM1102 681h3v4h-3zM1107 681h3v3h-3zM1111 681h3v2h-3zM1130 681h3v8h-3zM1135 681h3v7h-3zM1139 681h3v6h-3zM1144 681h3v6h-3zM1153 681h3v5h-3zM1158 681h3v3h-3zM1299 681h3v4h-3zM1304 681h3v1h-3zM1365 681h3v6h-3zM1369 681h3v5h-3zM1374 681h3v4h-3zM1379 681h3v3h-3zM1383 681h3v2h-3zM1388 681h3v2h-3zM1393 681h3v1h-3zM1510 681h3v4h-3zM1515 681h3v4h-3zM1520 681h3v4h-3zM1524 681h3v2h-3zM1529 681h3v1h-3zM1566 681h3v2h-3zM1571 681h3v1h-3zM1581 681h3v2h-3zM1590 681h3v1h-3zM1595 681h3v1h-3z" fill="#ffcdd2" shape-rendering="crispEdges"/>
<path d="M0.5 677.8L5.5 677.2L9.5 674.9L14.5 673.8L19.5 668.9L23.5 660.6L28.5 643.8L33.5 599.3L38.5 579.9L42.5 558.7L47.5 528.8L52.5 522.8L56.5 522.0L61.5 530.9L66.5 541.6L70.5 547.9L75.5 557.5L80.5 563.0L84.5 568.7L89.5 565.6L94.5 567.5L99.5 564.8L103.5 554.8L108.5 551.2L113.5 538.7L117.5 513.3L122.5 475.2L127.5 460.7L131.5 433.1L136.5 423.4L141.5 429.7L145.5 458.6L150.5 476.3L155.5 510.3L160.5 522.1L164.5 520.9L169.5 530.4L174.5 539.0L178.5 551.6L183.5 565.0L188.5 601.9L192.5 620.1L197.5 641.9L202.5 662.4L206.5 684.6L211.5 691.5L216.5 700.6L221.5 706.4L225.5 714.0L230.5 723.3L235.5 731.8L239.5 737.8L244.5 737.9L249.5 729.6L253.5 713.3L258.5 704.1L263.5 700.7L267.5 698.7L272.5 697.3L277.5 702.7L282.5 707.4L286.5 708.0L291.5 711.0L296.5 714.3L300.5 718.0L305.5 718.4L310.5 717.6L314.5 717.9L319.5 719.7L324.5 721.1L328.5 723.9L333.5 726.9L338.5 729.6L343.5 748.7L347.5 761.0L352.5 762.0L357.5 756.9L361.5 756.6L366.5 754.1L371.5 747.9L375.5 743.6L380.5 738.5L385.5 735.5L390.5 734.3L394.5 732.6L399.5 730.4L404.5 728.1L408.5 728.3L413.5 727.4L418.5 728.0L422.5 730.8L427.5 730.5L432.5 730.5L436.5 729.6L441.5 729.9L446.5 730.9L451.5 731.5L455.5 733.5L460.5 736.7L465.5 736.1L469.5 736.0L474.5 736.6L479.5 737.1L483.5 733.3L488.5 729.6L493.5 725.5L497.5 721.3L502.5 717.7L507.5 713.3L512.5 709.1L516.5 705.5L521.5 702.6L526.5 699.4L530.5 696.9L535.5 695.5L540.5 694.2L544.5 694.3L549.5 693.4L554.5 692.6L558.5 691.2L563.5 680.0L568.5 675.3L573.5 668.8L577.5 663.6L582.5 658.6L587.5 655.0L591.5 648.6L596.5 642.4L601.5 630.3L605.5 624.9L610.5 624.6L615.5 624.4L619.5 622.6L624.5 620.1L629.5 620.5L634.5 621.9L638.5 623.4L643.5 630.0L648.5 635.2L652.5 643.9L657.5 646.7L662.5 650.9L666.5 655.4L671.5 660.6L676.5 663.9L680.5 663.8L685.5 664.0L690.5 664.0L695.5 663.9L699.5 661.5L704.5 660.4L709.5 669.4L713.5 676.3L718.5 682.3L723.5 689.1L727.5 694.4L732.5 696.8L737.5 700.8L741.5 703.0L746.5 703.2L751.5 704.1L756.5 705.1L760.5 705.3L765.5 706.5L770.5 711.4L774.5 716.2L779.5 715.4L784.5 714.5L788.5 716.1L793.5 717.0L798.5 718.0L802.5 719.2L807.5 720.3L812.5 720.4L817.5 719.1L821.5 714.5L826.5 711.0L831.5 707.7L835.5 701.1L840.5 694.1L845.5 688.0L849.5 685.0L854.5 682.6L859.5 680.2L863.5 681.3L868.5 681.7L873.5 683.0L878.5 682.8L882.5 682.9L887.5 682.4L892.5 681.6L896.5 680.9L901.5 678.5L906.5 677.3L910.5 674.7L915.5 674.9L920.5 674.9L925.5 673.6L929.5 668.5L934.5 666.4L939.5 666.6L943.5 670.1L948.5 662.1L953.5 658.2L957.5 658.7L962.5 657.7L967.5 658.2L971.5 658.7L976.5 660.2L981.5 662.4L986.5 664.9L990.5 666.8L995.5 667.7L1000.5 665.8L1004.5 666.0L1009.5 669.5L1014.5 671.5L1018.5 673.5L1023.5 674.8L1028.5 675.7L1032.5 677.5L1037.5 682.4L1042.5 686.0L1047.5 691.7L1051.5 693.9L1056.5 695.4L1061.5 697.7L1065.5 700.5L1070.5 701.3L1075.5 703.3L1079.5 704.0L1084.5 707.6L1089.5 709.5L1093.5 710.2L1098.5 709.1L1103.5 707.9L1108.5 707.8L1112.5 707.4L1117.5 708.4L1122.5 712.4L1126.5 716.6L1131.5 718.3L1136.5 719.4L1140.5 719.5L1145.5 720.8L1150.5 722.2L1154.5 722.0L1159.5 721.4L1164.5 722.5L1169.5 717.0L1173.5 714.1L1178.5 713.0L1183.5 712.4L1187.5 710.9L1192.5 710.0L1197.5 709.2L1201.5 707.8L1206.5 705.9L1211.5 702.1L1215.5 698.6L1220.5 695.0L1225.5 692.3L1230.5 690.2L1234.5 691.0L1239.5 692.4L1244.5 692.8L1248.5 693.2L1253.5 692.9L1258.5 692.3L1262.5 692.4L1267.5 692.8L1272.5 694.5L1276.5 695.5L1281.5 697.0L1286.5 698.8L1291.5 700.0L1295.5 701.9L1300.5 701.5L1305.5 699.3L1309.5 695.9L1314.5 688.6L1319.5 685.1L1323.5 683.6L1328.5 683.5L1333.5 684.3L1337.5 685.4L1342.5 687.5L1347.5 691.4L1352.5 695.8L1356.5 697.4L1361.5 699.4L1366.5 699.8L1370.5 699.8L1375.5 700.0L1380.5 699.9L1384.5 699.3L1389.5 699.4L1394.5 698.8L1398.5 698.0L1403.5 698.1L1408.5 697.8L1413.5 695.7L1417.5 694.1L1422.5 691.4L1427.5 687.3L1431.5 685.2L1436.5 683.4L1441.5 683.1L1445.5 684.0L1450.5 684.9L1455.5 685.0L1460.5 685.4L1464.5 684.6L1469.5 684.5L1474.5 686.2L1478.5 687.5L1483.5 688.0L1488.5 689.0L1492.5 691.2L1497.5 692.4L1502.5 693.7L1506.5 695.1L1511.5 695.6L1516.5 695.8L1521.5 696.6L1525.5 695.2L1530.5 693.9L1535.5 692.8L1539.5 692.5L1544.5 693.2L1549.5 693.5L1553.5 694.2L1558.5 695.2L1563.5 695.8L1567.5 695.4L1572.5 695.6L1577.5 695.9L1582.5 696.1L1586.5 696.8L1591.5 696.5L1596.5 696.3L1600.5 695.3L1605.5 694.4L1610.5 693.1L1614.5 691.2L1619.5 690.3L1624.5 689.6L1628.5 688.3L1633.5 686.0L1638.5 683.1L1643.5 681.8L1647.5 679.9L1652.5 676.8L1657.5 674.9L1661.5 673.2L1666.5 671.9" stroke="#2962ff" stroke-width="1.2" fill="none" stroke-linejoin="round"/>
<path d="M0.5 679.0L5.5 678.7L9.5 677.9L14.5 677.1L19.5 675.5L23.5 672.5L28.5 666.7L33.5 653.3L38.5 638.6L42.5 622.6L47.5 603.8L52.5 587.6L56.5 574.5L61.5 565.8L66.5 561.0L70.5 558.3L75.5 558.2L80.5 559.1L84.5 561.1L89.5 562.0L94.5 563.1L99.5 563.4L103.5 561.7L108.5 559.6L113.5 555.4L117.5 547.0L122.5 532.6L127.5 518.2L131.5 501.2L136.5 485.7L141.5 474.5L145.5 471.3L150.5 472.3L155.5 479.9L160.5 488.3L164.5 494.9L169.5 502.0L174.5 509.4L178.5 517.8L183.5 527.2L188.5 542.2L192.5 557.8L197.5 574.6L202.5 592.2L206.5 610.6L211.5 626.8L216.5 641.6L221.5 654.6L225.5 666.4L230.5 677.8L235.5 688.6L239.5 698.5L244.5 706.3L249.5 711.0L253.5 711.5L258.5 710.0L263.5 708.1L267.5 706.2L272.5 704.4L277.5 704.1L282.5 704.8L286.5 705.4L291.5 706.5L296.5 708.1L300.5 710.1L305.5 711.7L310.5 712.9L314.5 713.9L319.5 715.1L324.5 716.3L328.5 717.8L333.5 719.6L338.5 721.6L343.5 727.0L347.5 733.8L352.5 739.5L357.5 743.0L361.5 745.7L366.5 747.4L371.5 747.5L375.5 746.7L380.5 745.1L385.5 743.1L390.5 741.4L394.5 739.6L399.5 737.8L404.5 735.8L408.5 734.3L413.5 732.9L418.5 731.9L422.5 731.7L427.5 731.5L432.5 731.3L436.5 730.9L441.5 730.7L446.5 730.8L451.5 730.9L455.5 731.4L460.5 732.5L465.5 733.2L469.5 733.8L474.5 734.3L479.5 734.9L483.5 734.6L488.5 733.6L493.5 731.9L497.5 729.8L502.5 727.4L507.5 724.6L512.5 721.5L516.5 718.3L521.5 715.1L526.5 712.0L530.5 709.0L535.5 706.3L540.5 703.9L544.5 702.0L549.5 700.3L554.5 698.7L558.5 697.2L563.5 693.8L568.5 690.1L573.5 685.8L577.5 681.4L582.5 676.8L587.5 672.5L591.5 667.7L596.5 662.6L601.5 656.2L605.5 649.9L610.5 644.9L615.5 640.8L619.5 637.1L624.5 633.7L629.5 631.1L634.5 629.3L638.5 628.1L643.5 628.5L648.5 629.8L652.5 632.6L657.5 635.5L662.5 638.5L666.5 641.9L671.5 645.6L676.5 649.3L680.5 652.2L685.5 654.6L690.5 656.5L695.5 657.9L699.5 658.6L704.5 659.0L709.5 661.1L713.5 664.1L718.5 667.8L723.5 672.0L727.5 676.5L732.5 680.6L737.5 684.6L741.5 688.3L746.5 691.3L751.5 693.8L756.5 696.1L760.5 697.9L765.5 699.6L770.5 702.0L774.5 704.8L779.5 706.9L784.5 708.5L788.5 710.0L793.5 711.4L798.5 712.7L802.5 714.0L807.5 715.3L812.5 716.3L817.5 716.9L821.5 716.4L826.5 715.3L831.5 713.8L835.5 711.3L840.5 707.8L845.5 703.9L849.5 700.1L854.5 696.6L859.5 693.3L863.5 690.9L868.5 689.1L873.5 687.9L878.5 686.9L882.5 686.1L887.5 685.3L892.5 684.6L896.5 683.8L901.5 682.8L906.5 681.7L910.5 680.3L915.5 679.2L920.5 678.3L925.5 677.4L929.5 675.6L934.5 673.8L939.5 672.3L943.5 671.9L948.5 669.9L953.5 667.6L957.5 665.8L962.5 664.2L967.5 663.0L971.5 662.1L976.5 661.7L981.5 661.9L986.5 662.5L990.5 663.4L995.5 664.2L1000.5 664.5L1004.5 664.8L1009.5 665.8L1014.5 666.9L1018.5 668.2L1023.5 669.5L1028.5 670.8L1032.5 672.1L1037.5 674.2L1042.5 676.6L1047.5 679.6L1051.5 682.4L1056.5 685.0L1061.5 687.6L1065.5 690.1L1070.5 692.4L1075.5 694.6L1079.5 696.4L1084.5 698.7L1089.5 700.8L1093.5 702.7L1098.5 704.0L1103.5 704.8L1108.5 705.4L1112.5 705.8L1117.5 706.3L1122.5 707.5L1126.5 709.3L1131.5 711.1L1136.5 712.8L1140.5 714.1L1145.5 715.5L1150.5 716.8L1154.5 717.8L1159.5 718.6L1164.5 719.4L1169.5 718.9L1173.5 717.9L1178.5 716.9L1183.5 716.0L1187.5 715.0L1192.5 714.0L1197.5 713.0L1201.5 712.0L1206.5 710.8L1211.5 709.0L1215.5 707.0L1220.5 704.6L1225.5 702.1L1230.5 699.7L1234.5 698.0L1239.5 696.9L1244.5 696.1L1248.5 695.5L1253.5 695.0L1258.5 694.4L1262.5 694.0L1267.5 693.8L1272.5 693.9L1276.5 694.2L1281.5 694.8L1286.5 695.6L1291.5 696.5L1295.5 697.5L1300.5 698.3L1305.5 698.5L1309.5 698.0L1314.5 696.1L1319.5 693.9L1323.5 691.8L1328.5 690.2L1333.5 689.0L1337.5 688.3L1342.5 688.1L1347.5 688.8L1352.5 690.2L1356.5 691.6L1361.5 693.2L1366.5 694.5L1370.5 695.6L1375.5 696.5L1380.5 697.1L1384.5 697.6L1389.5 697.9L1394.5 698.1L1398.5 698.1L1403.5 698.1L1408.5 698.0L1413.5 697.6L1417.5 696.9L1422.5 695.8L1427.5 694.1L1431.5 692.3L1436.5 690.5L1441.5 689.0L1445.5 688.0L1450.5 687.4L1455.5 686.9L1460.5 686.6L1464.5 686.2L1469.5 685.9L1474.5 685.9L1478.5 686.3L1483.5 686.6L1488.5 687.1L1492.5 687.9L1497.5 688.8L1502.5 689.8L1506.5 690.9L1511.5 691.8L1516.5 692.6L1521.5 693.4L1525.5 693.8L1530.5 693.8L1535.5 693.6L1539.5 693.4L1544.5 693.3L1549.5 693.4L1553.5 693.5L1558.5 693.9L1563.5 694.3L1567.5 694.5L1572.5 694.7L1577.5 694.9L1582.5 695.2L1586.5 695.5L1591.5 695.7L1596.5 695.8L1600.5 695.7L1605.5 695.5L1610.5 695.0L1614.5 694.2L1619.5 693.4L1624.5 692.7L1628.5 691.8L1633.5 690.6L1638.5 689.1L1643.5 687.7L1647.5 686.1L1652.5 684.2L1657.5 682.4L1661.5 680.5L1666.5 678.8" stroke="#ff6d00" stroke-width="1.2" fill="none" stroke-linejoin="round"/>
</g>
<path d="M10 433.5H1824 M10 601.5H1824 M10 777.5H1824 M1760.5 28V805" stroke="#555555" stroke-width="1" fill="none" shape-rendering="crispEdges"/>
<g clip-path="url(#cAx1)">
<text x="1770" y="31.5" font-size="12" fill="#fff" stroke="#fff" stroke-width="0.35" textLength="35.8" lengthAdjust="spacingAndGlyphs">1.0000</text>
<text x="1770" y="67.8" font-size="12" fill="#fff" stroke="#fff" stroke-width="0.35" textLength="35.8" lengthAdjust="spacingAndGlyphs">0.8000</text>
<text x="1770" y="114.6" font-size="12" fill="#fff" stroke="#fff" stroke-width="0.35" textLength="35.8" lengthAdjust="spacingAndGlyphs">0.6000</text>
<text x="1770" y="161.4" font-size="12" fill="#fff" stroke="#fff" stroke-width="0.35" textLength="35.8" lengthAdjust="spacingAndGlyphs">0.4500</text>
<text x="1770" y="202.3" font-size="12" fill="#fff" stroke="#fff" stroke-width="0.35" textLength="35.8" lengthAdjust="spacingAndGlyphs">0.3500</text>
<text x="1770" y="232.9" font-size="12" fill="#fff" stroke="#fff" stroke-width="0.35" textLength="35.8" lengthAdjust="spacingAndGlyphs">0.2900</text>
<text x="1770" y="270.6" font-size="12" fill="#fff" stroke="#fff" stroke-width="0.35" textLength="35.8" lengthAdjust="spacingAndGlyphs">0.2300</text>
<text x="1770" y="340.2" font-size="12" fill="#fff" stroke="#fff" stroke-width="0.35" textLength="35.8" lengthAdjust="spacingAndGlyphs">0.1500</text>
<text x="1770" y="376.5" font-size="12" fill="#fff" stroke="#fff" stroke-width="0.35" textLength="35.8" lengthAdjust="spacingAndGlyphs">0.1200</text>
<text x="1770" y="414.5" font-size="12" fill="#fff" stroke="#fff" stroke-width="0.35" textLength="35.8" lengthAdjust="spacingAndGlyphs">0.0950</text>
<rect x="1778.5" y="33.5" width="27" height="18" rx="3" fill="#000" stroke="#2a2e39"/>
<text x="1781.6" y="46.8" font-size="11.5" fill="#fff" stroke="#fff" stroke-width="0.35" textLength="20.6" lengthAdjust="spacingAndGlyphs">USD</text>
<path d="M1760 288.0H1810a2 2 0 0 1 2 2V303.0a2 2 0 0 1 -2 2H1760Z" fill="#ffeb3b"/>
<text x="1770" y="300.6" font-size="12" fill="#2b2700" stroke="#2b2700" stroke-width="0.35" textLength="35.8" lengthAdjust="spacingAndGlyphs">0.1920</text>
<path d="M1760 334.0H1810a2 2 0 0 1 2 2V349.0a2 2 0 0 1 -2 2H1760Z" fill="#1df927"/>
<text x="1770" y="346.6" font-size="12" fill="#06300a" stroke="#06300a" stroke-width="0.35" textLength="35.8" lengthAdjust="spacingAndGlyphs">0.1444</text>
<path d="M1760 388.0H1810a2 2 0 0 1 2 2V403.0a2 2 0 0 1 -2 2H1760Z" fill="#ffeb3b"/>
<text x="1770" y="400.6" font-size="12" fill="#2b2700" stroke="#2b2700" stroke-width="0.35" textLength="35.8" lengthAdjust="spacingAndGlyphs">0.1033</text>
</g>
<g clip-path="url(#cAx2)">
<text x="1770.5" y="447.8" font-size="12" fill="#fff" stroke="#fff" stroke-width="0.35" textLength="35.2" lengthAdjust="spacingAndGlyphs">100.00</text>
<text x="1770.5" y="486.8" font-size="12" fill="#fff" stroke="#fff" stroke-width="0.35" textLength="29.4" lengthAdjust="spacingAndGlyphs">80.00</text>
<text x="1770.5" y="525.8" font-size="12" fill="#fff" stroke="#fff" stroke-width="0.35" textLength="29.4" lengthAdjust="spacingAndGlyphs">60.00</text>
<text x="1770.5" y="564.8" font-size="12" fill="#fff" stroke="#fff" stroke-width="0.35" textLength="29.4" lengthAdjust="spacingAndGlyphs">40.00</text>
<text x="1770.5" y="603.8" font-size="12" fill="#fff" stroke="#fff" stroke-width="0.35" textLength="29.4" lengthAdjust="spacingAndGlyphs">20.00</text>
</g>
<text x="1770" y="642.2" font-size="12" fill="#fff" stroke="#fff" stroke-width="0.35" textLength="35.8" lengthAdjust="spacingAndGlyphs">0.0200</text>
<text x="1770" y="685.7" font-size="12" fill="#fff" stroke="#fff" stroke-width="0.35" textLength="35.8" lengthAdjust="spacingAndGlyphs">0.0000</text>
<text x="1770" y="729.2" font-size="12" fill="#fff" stroke="#fff" stroke-width="0.35" textLength="41.8" lengthAdjust="spacingAndGlyphs">−0.0200</text>
<text x="1770" y="772.7" font-size="12" fill="#fff" stroke="#fff" stroke-width="0.35" textLength="41.8" lengthAdjust="spacingAndGlyphs">−0.0400</text>
<text x="92.7" y="794.8" font-size="12" fill="#fff" stroke="#fff" stroke-width="0.35" textLength="22" lengthAdjust="spacingAndGlyphs">May</text>
<text x="239.4" y="794.8" font-size="12" fill="#fff" stroke="#fff" stroke-width="0.35" textLength="19.6" lengthAdjust="spacingAndGlyphs">Jun</text>
<text x="381.7" y="794.8" font-size="12" fill="#fff" stroke="#fff" stroke-width="0.35" textLength="16.6" lengthAdjust="spacingAndGlyphs">Jul</text>
<text x="525.2" y="794.8" font-size="12" fill="#fff" stroke="#fff" stroke-width="0.35" textLength="20.6" lengthAdjust="spacingAndGlyphs">Aug</text>
<text x="670.9" y="794.8" font-size="12" fill="#fff" stroke="#fff" stroke-width="0.35" textLength="20.1" lengthAdjust="spacingAndGlyphs">Sep</text>
<text x="812.0" y="794.8" font-size="12" fill="#fff" stroke="#fff" stroke-width="0.35" textLength="19.6" lengthAdjust="spacingAndGlyphs">Oct</text>
<text x="957.0" y="794.8" font-size="12" fill="#fff" stroke="#fff" stroke-width="0.35" textLength="20.4" lengthAdjust="spacingAndGlyphs">Nov</text>
<text x="1097.8" y="794.8" font-size="12" fill="#fff" stroke="#fff" stroke-width="0.35" textLength="20.4" lengthAdjust="spacingAndGlyphs">Dec</text>
<text x="1239.3" y="794.8" font-size="12" fill="#fff" stroke="#fff" stroke-width="0.35" textLength="28.4" lengthAdjust="spacingAndGlyphs" font-weight="bold">2022</text>
<text x="1389.0" y="794.8" font-size="12" fill="#fff" stroke="#fff" stroke-width="0.35" textLength="19.9" lengthAdjust="spacingAndGlyphs">Feb</text>
<text x="1520.4" y="794.8" font-size="12" fill="#fff" stroke="#fff" stroke-width="0.35" textLength="20" lengthAdjust="spacingAndGlyphs">Mar</text>
<text x="1666.6" y="794.8" font-size="12" fill="#fff" stroke="#fff" stroke-width="0.35" textLength="18.5" lengthAdjust="spacingAndGlyphs">Apr</text>
<text x="10.3" y="19" font-size="12" fill="#c9ccd6" stroke="#c9ccd6" stroke-width="0.35" textLength="457.3" lengthAdjust="spacingAndGlyphs">Aaryamann_Shrivastava published on TradingView.com, Mar 30, 2022 22:19 UTC+5:30</text>
<text x="18" y="45.7" font-size="12" fill="#fff" stroke="#fff" stroke-width="0.35" textLength="340" lengthAdjust="spacingAndGlyphs">Dogecoin / US Dollar (calculated by TradingView), 1D, BINANCE</text>
<text x="365.6" y="45.7" font-size="12" textLength="43.9" lengthAdjust="spacingAndGlyphs" stroke-width="0.35"><tspan fill="#fff" stroke="#fff">O</tspan><tspan fill="#1df927" stroke="#1df927">0.1443</tspan></text>
<text x="416.8" y="45.7" font-size="12" textLength="43.5" lengthAdjust="spacingAndGlyphs" stroke-width="0.35"><tspan fill="#fff" stroke="#fff">H</tspan><tspan fill="#1df927" stroke="#1df927">0.1457</tspan></text>
<text x="468" y="45.7" font-size="12" textLength="41.5" lengthAdjust="spacingAndGlyphs" stroke-width="0.35"><tspan fill="#fff" stroke="#fff">L</tspan><tspan fill="#1df927" stroke="#1df927">0.1379</tspan></text>
<text x="516.4" y="45.7" font-size="12" textLength="43.6" lengthAdjust="spacingAndGlyphs" stroke-width="0.35"><tspan fill="#fff" stroke="#fff">C</tspan><tspan fill="#1df927" stroke="#1df927">0.1444</tspan></text>
<text x="567.6" y="45.7" font-size="12" fill="#1df927" stroke="#1df927" stroke-width="0.35" textLength="90.8" lengthAdjust="spacingAndGlyphs">+0.0001 (+0.07%)</text>
<text x="18" y="453" font-size="12" fill="#fff" stroke="#fff" stroke-width="0.35" textLength="140.5" lengthAdjust="spacingAndGlyphs">RSI (14, close, SMA, 14, 2)</text>
<text x="166.3" y="453" font-size="12" fill="#7e57c2" stroke="#7e57c2" stroke-width="0.35" textLength="28.7" lengthAdjust="spacingAndGlyphs">64.32</text>
<text x="203" y="453" font-size="12" fill="#fdd835" stroke="#fdd835" stroke-width="0.35" textLength="29" lengthAdjust="spacingAndGlyphs">54.95</text>
<text x="239.5" y="453" font-size="12" fill="#fff" stroke="#fff" stroke-width="0.35" textLength="19" lengthAdjust="spacingAndGlyphs">n/a</text>
<text x="266" y="453" font-size="12" fill="#fff" stroke="#fff" stroke-width="0.35" textLength="19" lengthAdjust="spacingAndGlyphs">n/a</text>
<text x="18" y="620.6" font-size="12" fill="#fff" stroke="#fff" stroke-width="0.35" textLength="185" lengthAdjust="spacingAndGlyphs">MACD (12, 26, close, 9, EMA, EMA)</text>
<text x="211" y="620.6" font-size="12" fill="#a5d6d3" stroke="#a5d6d3" stroke-width="0.35" textLength="35.5" lengthAdjust="spacingAndGlyphs">0.0032</text>
<text x="254" y="620.6" font-size="12" fill="#2962ff" stroke="#2962ff" stroke-width="0.35" textLength="35.5" lengthAdjust="spacingAndGlyphs">0.0045</text>
<text x="297" y="620.6" font-size="12" fill="#ff6d00" stroke="#ff6d00" stroke-width="0.35" textLength="35.5" lengthAdjust="spacingAndGlyphs">0.0013</text>
<g fill="#d1d4dc"><path d="M9.8 816.9H18V827H13.85V821.1H9.8z"/><circle cx="21.05" cy="819.2" r="2.1"/><path d="M25.5 816.9H29.7L25.5 827H20.9z"/></g>
<text x="32.6" y="826.9" font-size="12.9" fill="#d1d4dc" stroke="#d1d4dc" stroke-width="0.35" textLength="70.6" lengthAdjust="spacingAndGlyphs">TradingView</text>
</svg>
</body></html>
